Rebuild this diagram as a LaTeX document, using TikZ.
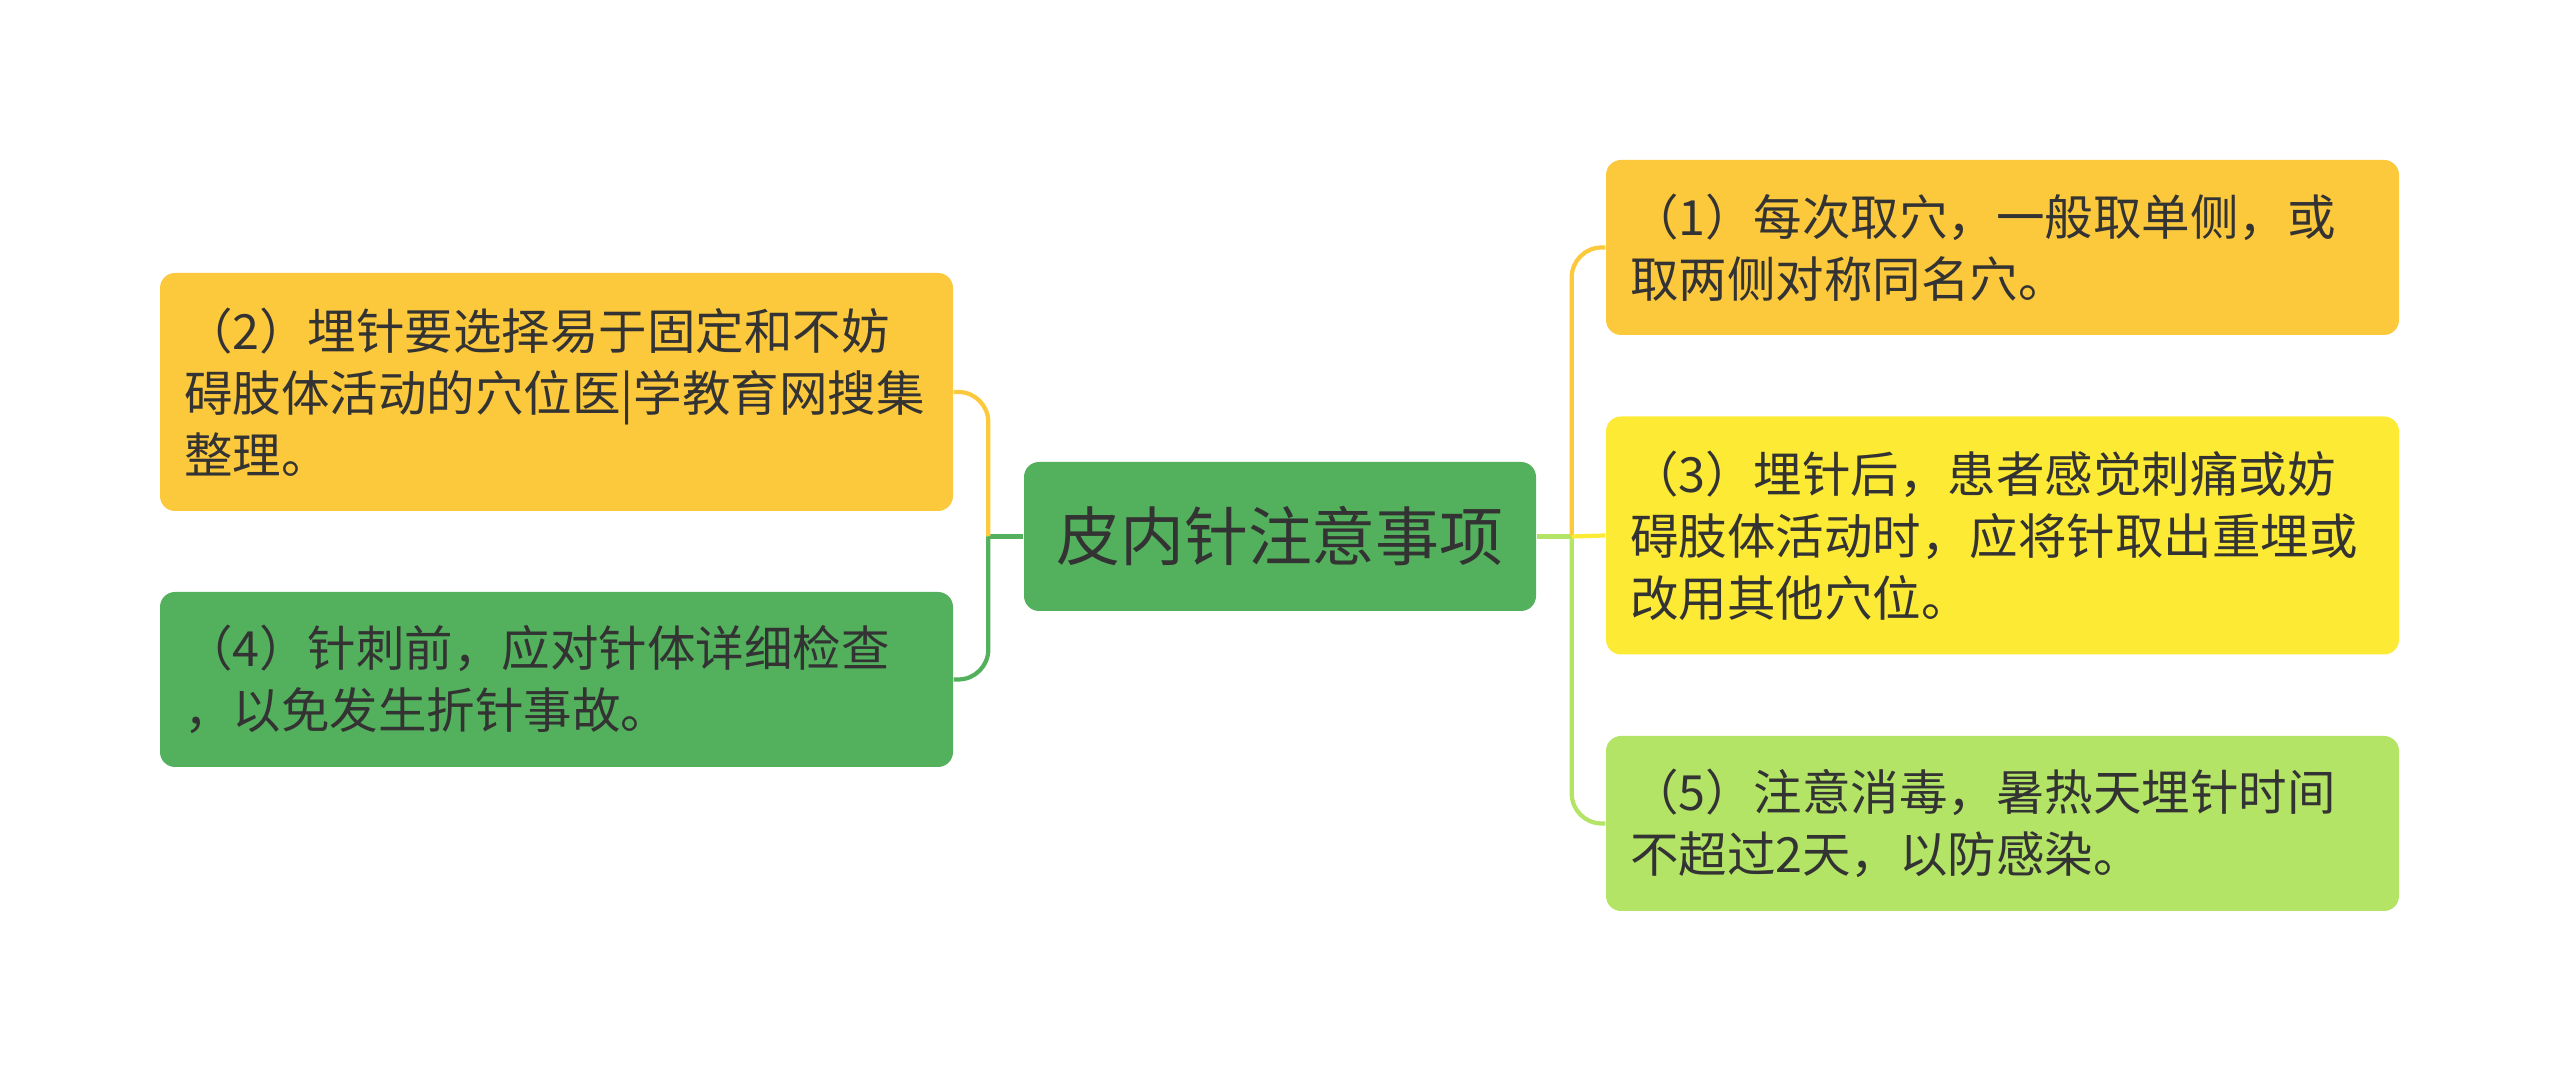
\documentclass[tikz,border=0pt]{standalone}
\usepackage{fontspec}
\setmainfont{Noto Sans CJK SC}
\usepackage{xcolor}
\usetikzlibrary{positioning}

\definecolor{rootgreen}{HTML}{53B05C}
\definecolor{leaforange}{HTML}{FCC93D}
\definecolor{leafyellow}{HTML}{FDEA35}
\definecolor{leaflime}{HTML}{B3E466}
\definecolor{textdark}{HTML}{333333}

\begin{document}
\begin{tikzpicture}[
    box/.style={rounded corners=0.15cm, text=textdark, align=left, text width=7.45cm,
      inner xsep=0.24cm, inner ysep=0cm, minimum width=7.93cm,
      font=\fontsize{13.8pt}{17.6pt}\selectfont},
    box2l/.style={box, minimum height=1.75cm},
    box3l/.style={box, minimum height=2.38cm},
    rootbox/.style={rounded corners=0.15cm, fill=rootgreen, text=textdark,
      minimum width=5.12cm, minimum height=1.49cm, font=\fontsize{18.2pt}{22pt}\selectfont},
    conn/.style={line width=1.2pt, rounded corners=0.3cm}
]
\useasboundingbox (0,0) rectangle (25.6,10.72);

% centre topic
\node[rootbox] (root) at (12.80,5.355) {皮内针注意事项};
\coordinate (ltrunk) at ([xshift=-0.35cm]root.west);
\coordinate (rtrunk) at ([xshift=0.35cm]root.east);

% left side
\node[box3l, fill=leaforange] (p2) at (5.565,6.80) {（2）埋针要选择易于固定和不妨\\碍肢体活动的穴位医|学教育网搜集\\整理。};
\node[box2l, fill=rootgreen] (p4) at (5.565,3.925) {（4）针刺前，应对针体详细检查\\，以免发生折针事故。};

% right side
\node[box2l, fill=leaforange] (p1) at (20.025,8.245) {（1）每次取穴，一般取单侧，或\\取两侧对称同名穴。};
\node[box3l, fill=leafyellow] (p3) at (20.025,5.365) {（3）埋针后，患者感觉刺痛或妨\\碍肢体活动时，应将针取出重埋或\\改用其他穴位。};
\node[box2l, fill=leaflime] (p5) at (20.025,2.485) {（5）注意消毒，暑热天埋针时间\\不超过2天，以防感染。};

% connectors
\draw[conn, rootgreen] (root.west) -- (ltrunk);
\draw[conn, leaforange] (ltrunk) |- (p2.east);
\draw[conn, rootgreen] (ltrunk) |- (p4.east);
\draw[conn, leaflime] (root.east) -- (rtrunk);
\draw[conn, leaforange] (rtrunk) |- (p1.west);
\draw[conn, leaflime] (rtrunk) |- (p5.west);
\draw[conn, leafyellow] (rtrunk) -- (p3.west);
\end{tikzpicture}
\end{document}
